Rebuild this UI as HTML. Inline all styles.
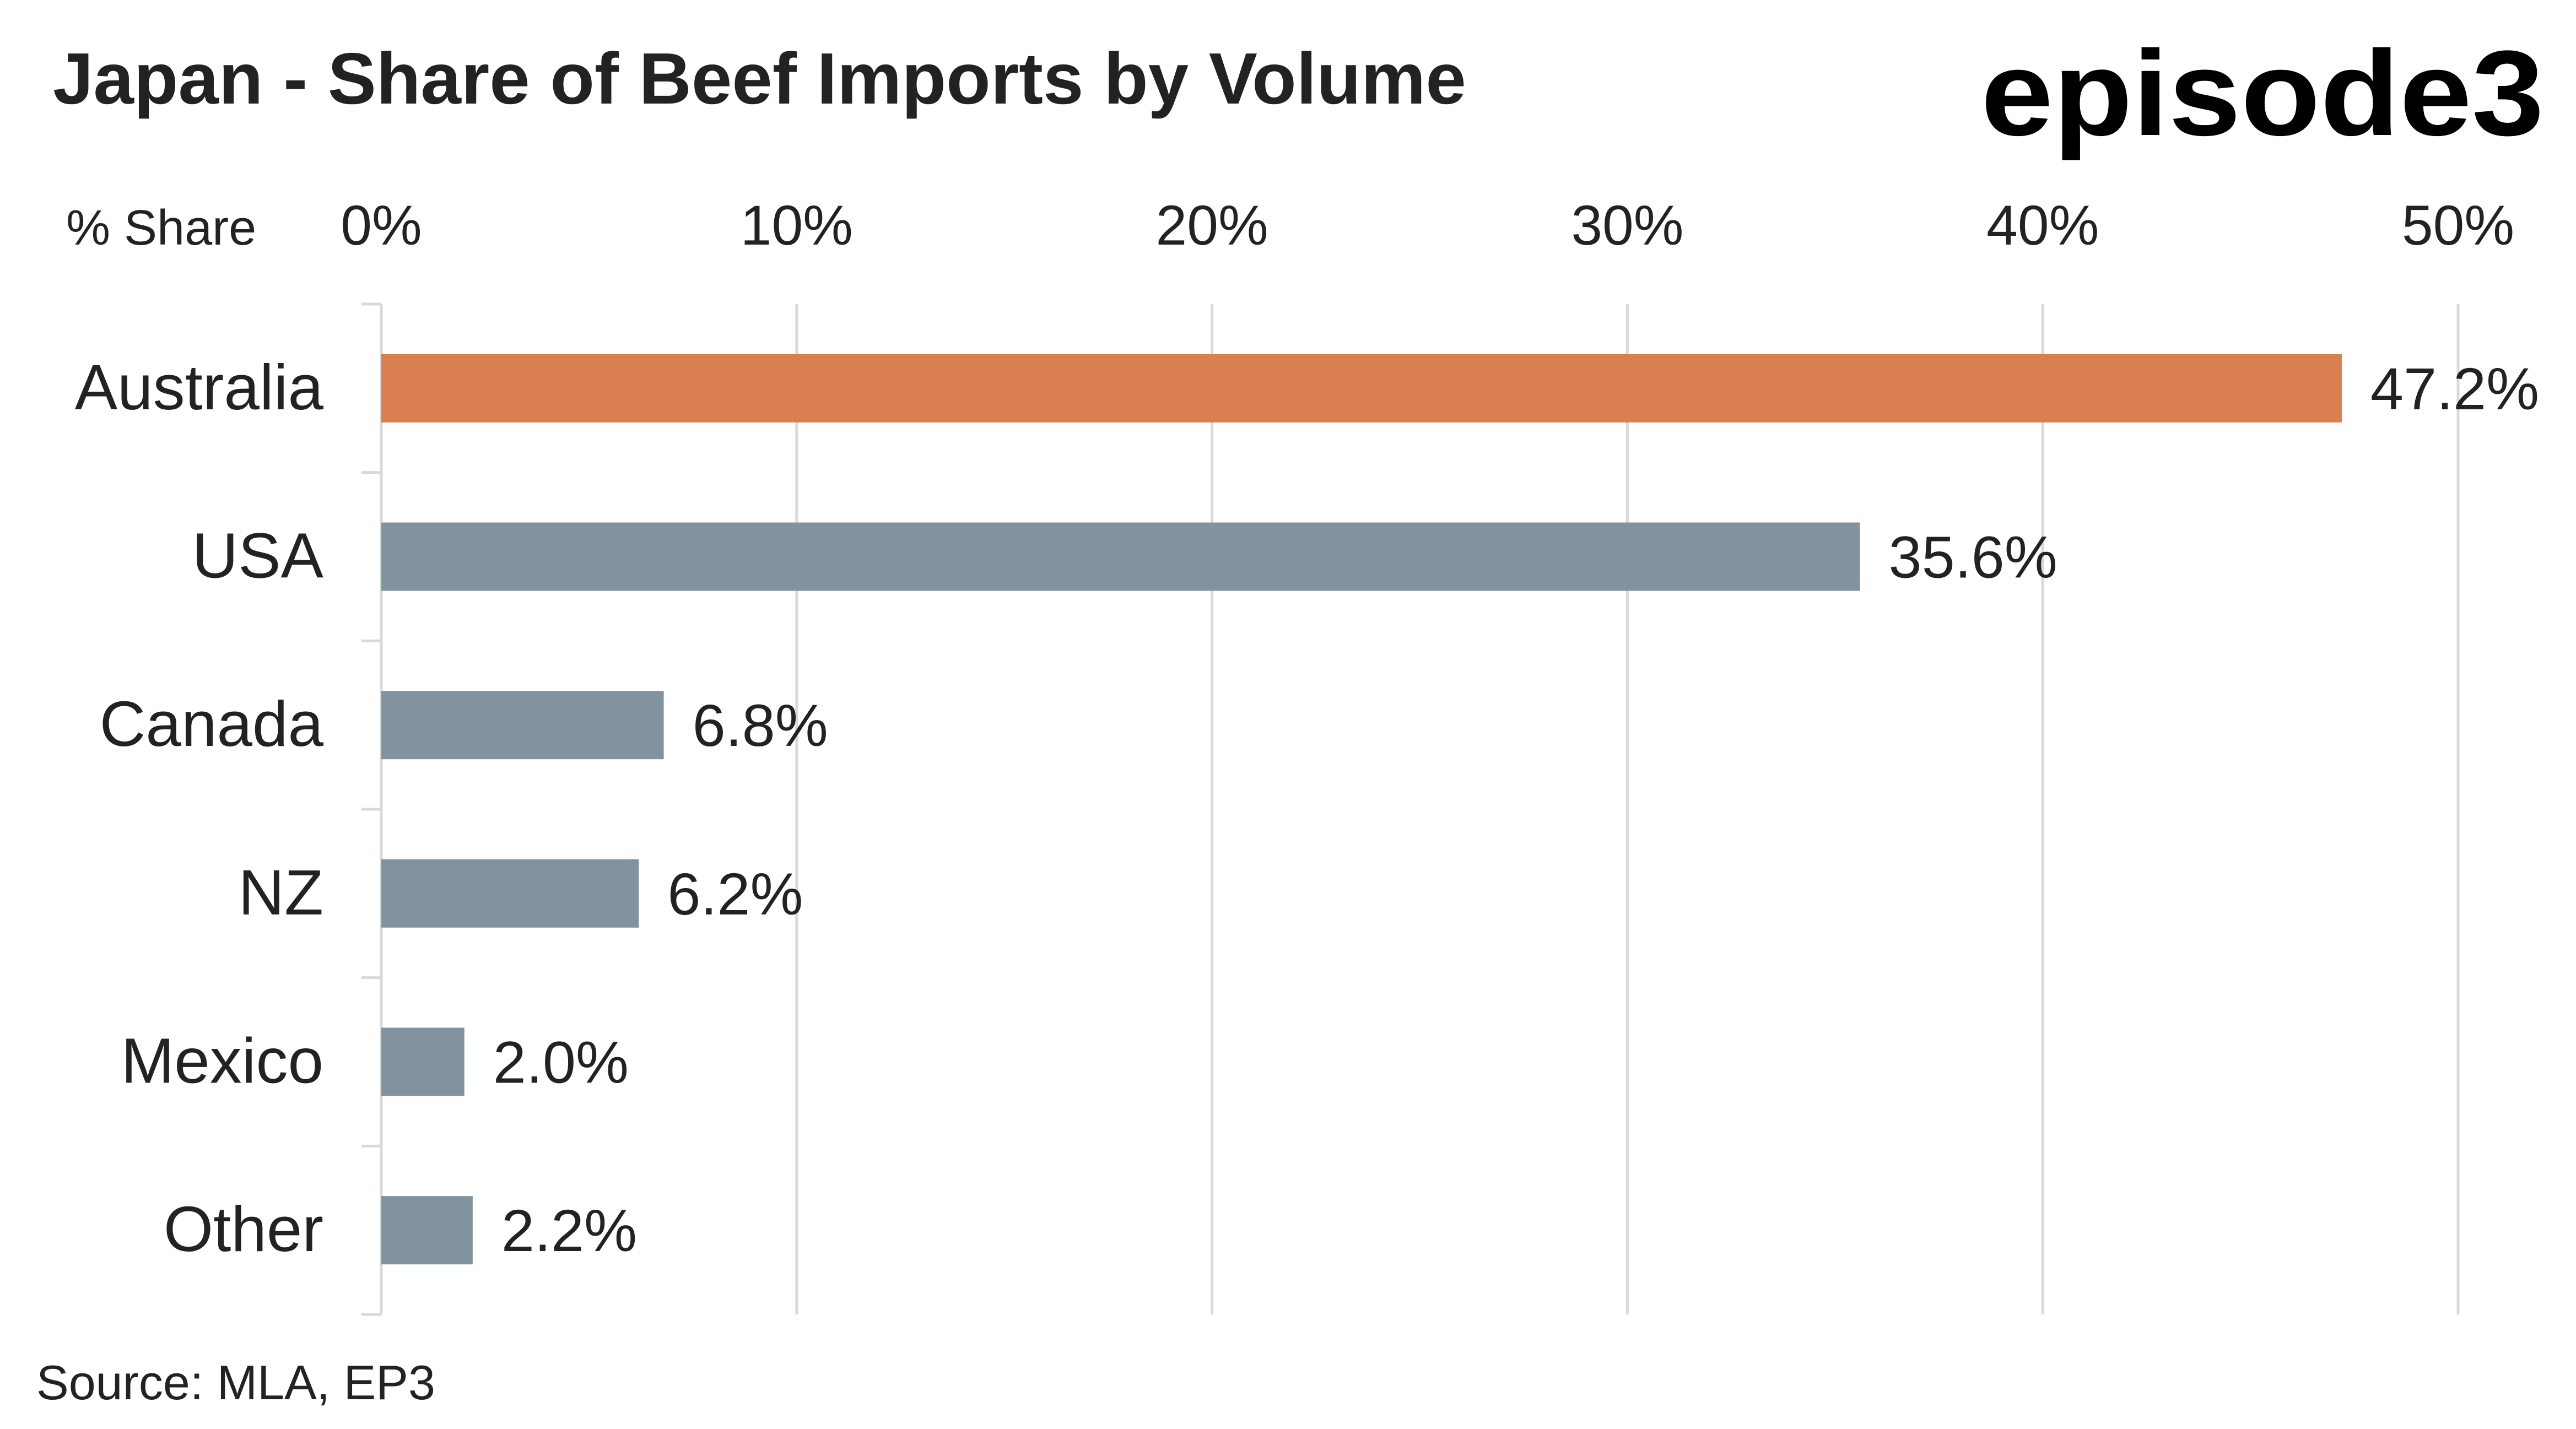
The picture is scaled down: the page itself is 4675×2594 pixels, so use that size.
<!DOCTYPE html>
<html><head><meta charset="utf-8">
<style>
html,body{margin:0;padding:0;background:#fff;}
svg{display:block;}
text{font-family:"Liberation Sans",sans-serif;fill:#222;}
</style></head>
<body>
<svg id="chart" width="4675" height="2594" viewBox="0 0 4675 2594" xmlns="http://www.w3.org/2000/svg">
<rect width="4675" height="2594" fill="#fff"/>
<text x="96" y="188" font-size="132" font-weight="bold">Japan - Share of Beef Imports by Volume</text>
<text x="3595" y="245" font-size="220" font-weight="bold" style="fill:#000" textLength="1022" lengthAdjust="spacingAndGlyphs">episode3</text>
<text x="120" y="444" font-size="90">% Share</text>
<text x="66" y="2540" font-size="88">Source: MLA, EP3</text>
<g id="grid"></g>
<g id="bars"></g>
</svg>
<script>
const categories = ["Australia","USA","Canada","NZ","Mexico","Other"];
const shares = [47.2,35.6,6.8,6.2,2.0,2.2];
const valueLabels = ["47.2%","35.6%","6.8%","6.2%","2.0%","2.2%"];
const ticks = [0,10,20,30,40,50];
const tickLabels = ["0%","10%","20%","30%","40%","50%"];

const NS="http://www.w3.org/2000/svg";
const plotX0=692, plotX1=4461, plotTop=552, plotBottom=2386;
const xs=v=>plotX0+(v-0)/(50-0)*(plotX1-plotX0);
const band=(plotBottom-plotTop)/categories.length;
const yc=i=>plotTop+band*(i+0.5);
const grid=document.getElementById('grid'), bars=document.getElementById('bars');
function mk(tag,attrs,parent){const e=document.createElementNS(NS,tag);for(const k in attrs)e.setAttribute(k,attrs[k]);parent.appendChild(e);return e;}

ticks.forEach((t,i)=>{
  const l=mk('line',{x1:xs(t),x2:xs(t),y1:plotTop,y2:plotBottom,stroke:'#d9d9d9','stroke-width':5},grid);
  
  
  const tx=mk('text',{x:xs(t),y:444,'font-size':102,'text-anchor':'middle'},grid);
  tx.textContent=tickLabels[i];
  
  
});
const ax=mk('line',{x1:plotX0,x2:plotX0,y1:plotTop,y2:plotBottom,stroke:'#d9d9d9','stroke-width':5},grid);


for(let i=0;i<=categories.length;i++){
  const tk=mk('line',{x1:plotX0-36,x2:plotX0,y1:plotTop+band*i,y2:plotTop+band*i,stroke:'#d9d9d9','stroke-width':5},grid);
  
  
}
categories.forEach((c,i)=>{
  const h=124, y=yc(i)-h/2;
  const r=mk('rect',{x:plotX0,y:y,width:xs(shares[i])-plotX0,height:h,fill:i===0?'#d97f50':'#81939e'},bars);
  
  
  const lb=mk('text',{x:587,y:yc(i)+38,'font-size':116,'text-anchor':'end'},bars);
  lb.textContent=c;
  
  
  const vl=mk('text',{x:xs(shares[i])+52,y:yc(i)+38,'font-size':108},bars);
  vl.textContent=valueLabels[i];
  
  
});
</script>
</body></html>
